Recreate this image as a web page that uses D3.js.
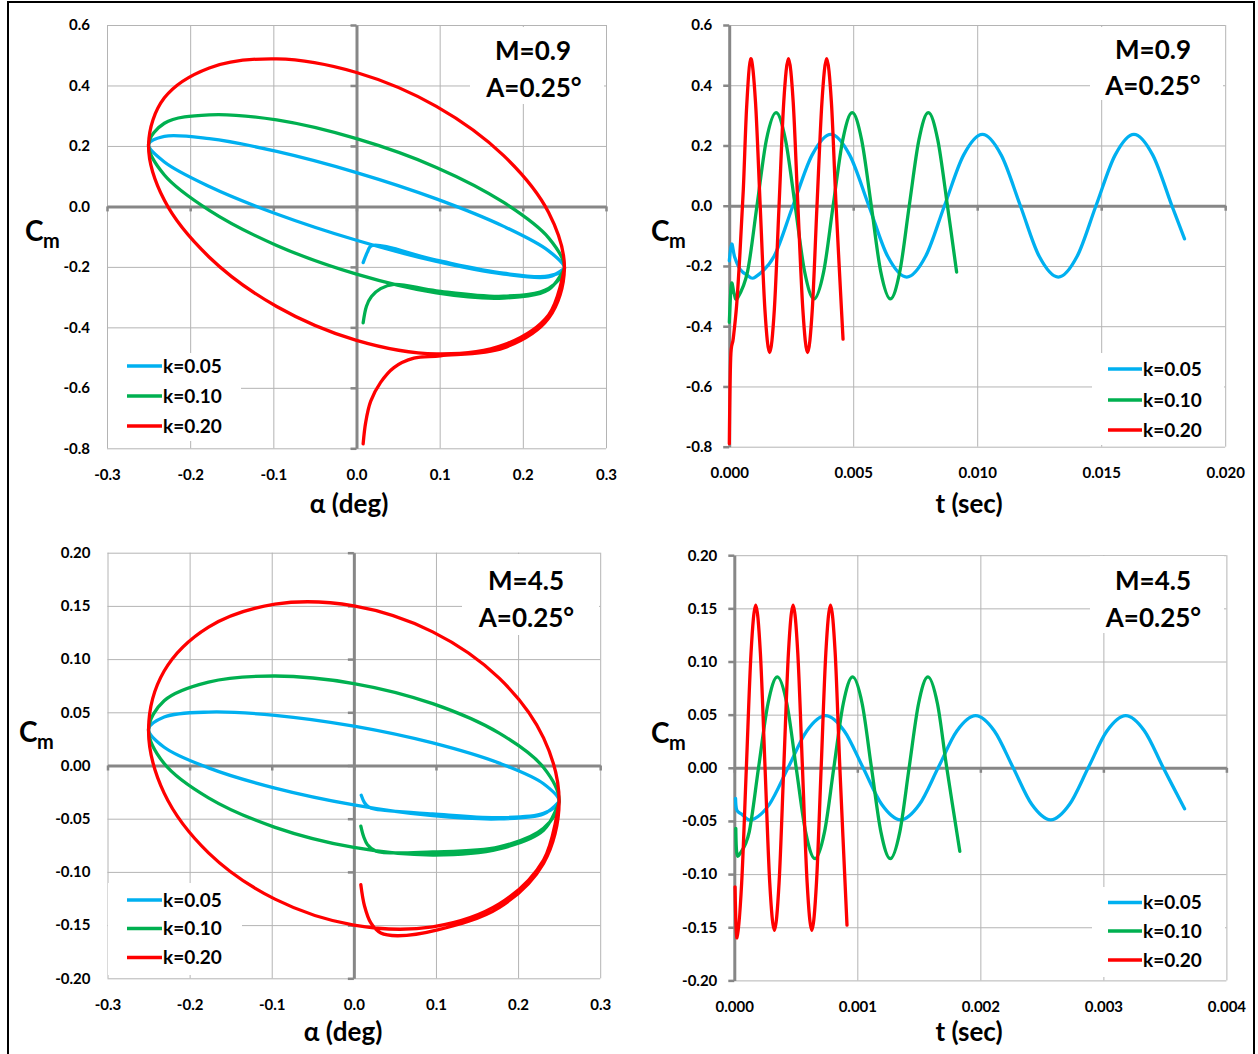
<!DOCTYPE html>
<html><head><meta charset="utf-8">
<script src="https://cdn.jsdelivr.net/npm/d3@7"></script>
<style>
body{margin:0;background:#fff;}
svg{display:block;}
</style></head><body>
<svg id="chart" width="1258" height="1054"></svg>
<script>
// ---------------- DATA ----------------
const seriesNames = ["k=0.05", "k=0.10", "k=0.20"];

const alphaTicks = [-0.3, -0.2, -0.1, 0.0, 0.1, 0.2, 0.3];
const cmTicksM09 = [-0.8, -0.6, -0.4, -0.2, 0.0, 0.2, 0.4, 0.6];
const cmTicksM45 = [-0.20, -0.15, -0.10, -0.05, 0.00, 0.05, 0.10, 0.15, 0.20];
const timeTicksM09 = [0.000, 0.005, 0.010, 0.015, 0.020];
const timeTicksM45 = [0.000, 0.001, 0.002, 0.003, 0.004];

const labelM09 = ["M=0.9", "A=0.25°"];
const labelM45 = ["M=4.5", "A=0.25°"];

// Cm vs alpha (deg), M = 0.9
const loopM09_k005 = [[0.008,-0.186],[0.013,-0.152],[0.018,-0.130],[0.096,-0.178],[0.177,-0.221],[0.231,-0.230],[0.25,-0.205],
  [0.231,-0.147],[0.177,-0.066],[0.096,0.025],[0,0.112],[-0.096,0.182],[-0.177,0.224],[-0.231,0.232],[-0.25,0.205],
  [-0.231,0.147],[-0.177,0.066],[-0.096,-0.025],[0,-0.112],[0.096,-0.182],[0.177,-0.224],[0.231,-0.233],[0.25,-0.205]];
const loopM09_k010 = [[0.008,-0.385],[0.012,-0.330],[0.018,-0.298],[0.029,-0.272],[0.045,-0.258],[0.096,-0.279],[0.177,-0.297],[0.231,-0.271],[0.25,-0.205],
  [0.231,-0.104],[0.177,0.013],[0.096,0.129],[0,0.224],[-0.096,0.286],[-0.177,0.303],[-0.231,0.275],[-0.25,0.205],
  [-0.231,0.104],[-0.177,-0.013],[-0.096,-0.129],[0,-0.224],[0.096,-0.286],[0.177,-0.303],[0.231,-0.275],[0.25,-0.205]];
const loopM09_k020 = [[0.008,-0.785],[0.011,-0.715],[0.017,-0.645],[0.029,-0.582],[0.045,-0.533],[0.069,-0.502],[0.101,-0.494],[0.177,-0.468],[0.231,-0.370],[0.25,-0.205],
  [0.231,-0.020],[0.177,0.168],[0.096,0.331],[0,0.443],[-0.096,0.488],[-0.177,0.458],[-0.231,0.359],[-0.25,0.205],
  [-0.231,0.020],[-0.177,-0.168],[-0.096,-0.331],[0,-0.443],[0.096,-0.488],[0.177,-0.458],[0.231,-0.359],[0.25,-0.205]];

// Cm vs t (sec), M = 0.9
const timeM09_k005 = [[0.000005,-0.183],[0.0001,-0.127],[0.00022,-0.170],[0.00045,-0.212],[0.00072,-0.230],[0.00105,-0.237],
  [0.00181,-0.168],[0.00257,0],[0.00334,0.168],[0.0041,0.237],[0.00486,0.168],[0.00563,0],[0.00639,-0.168],[0.00716,-0.237],
  [0.00792,-0.168],[0.00868,0],[0.00945,0.168],[0.01021,0.237],[0.01097,0.168],[0.01174,0],[0.0125,-0.168],[0.01327,-0.237],
  [0.01403,-0.168],[0.01479,0],[0.01556,0.168],[0.01632,0.237],[0.01708,0.168],[0.01785,0],[0.01836,-0.110]];
const timeM09_k010 = [[0.000005,-0.387],[0.00009,-0.260],[0.0002,-0.292],[0.00033,-0.307],[0.00074,-0.2185],[0.00112,0],
  [0.0015,0.2185],[0.00189,0.309],[0.00227,0.2185],[0.00266,0],[0.00304,-0.2185],[0.00342,-0.309],[0.00381,-0.2185],[0.00419,0],
  [0.00458,0.2185],[0.00496,0.309],[0.00534,0.2185],[0.00573,0],[0.00611,-0.2185],[0.0065,-0.309],[0.00688,-0.2185],[0.00726,0],
  [0.00765,0.2185],[0.00803,0.309],[0.00841,0.2185],[0.0088,0],[0.00917,-0.220]];
const timeM09_k020 = [[0.000005,-0.790],[0.00006,-0.505],[0.000165,-0.440],[0.0003,-0.330],[0.000435,-0.155],[0.00057,0.055],
  [0.000705,0.330],[0.00087,0.488],[0.00106,0.345],[0.00125,0],[0.00144,-0.345],[0.00163,-0.488],[0.00182,-0.345],[0.00201,0],
  [0.0022,0.345],[0.00239,0.488],[0.00258,0.345],[0.00277,0],[0.00297,-0.345],[0.00316,-0.488],[0.00335,-0.345],[0.00354,0],
  [0.00374,0.345],[0.00393,0.488],[0.00412,0.345],[0.00431,0],[0.00459,-0.443]];

// Cm vs alpha (deg), M = 4.5
const loopM45_k005 = [[0.009,-0.028],[0.013,-0.035],[0.018,-0.039],[0.026,-0.041],[0.096,-0.0455],[0.177,-0.049],[0.231,-0.045],[0.25,-0.034],
  [0.231,-0.0172],[0.177,0.0022],[0.096,0.0212],[0,0.037],[-0.096,0.0472],[-0.177,0.0502],[-0.231,0.0456],[-0.25,0.034],
  [-0.231,0.0172],[-0.177,-0.0022],[-0.096,-0.0212],[0,-0.037],[0.096,-0.0472],[0.177,-0.0502],[0.231,-0.0456],[0.25,-0.034]];
const loopM45_k010 = [[0.0085,-0.057],[0.012,-0.067],[0.0166,-0.0744],[0.0268,-0.0805],[0.096,-0.0812],[0.177,-0.0765],[0.231,-0.059],[0.25,-0.034],
  [0.231,-0.0019],[0.177,0.0304],[0.096,0.0581],[0,0.077],[-0.096,0.0841],[-0.177,0.0784],[-0.231,0.0609],[-0.25,0.034],
  [-0.231,0.0019],[-0.177,-0.0304],[-0.096,-0.0581],[0,-0.077],[0.096,-0.0841],[0.177,-0.0784],[0.231,-0.0609],[0.25,-0.034]];
const loopM45_k020 = [[0.0085,-0.112],[0.013,-0.132],[0.0207,-0.148],[0.0328,-0.1575],[0.053,-0.160],[0.102,-0.1545],[0.177,-0.1335],[0.231,-0.092],[0.25,-0.034],
  [0.231,0.026],[0.177,0.0821],[0.096,0.1256],[0,0.150],[-0.096,0.1516],[-0.177,0.1301],[-0.231,0.0888],[-0.25,0.034],
  [-0.231,-0.026],[-0.177,-0.0821],[-0.096,-0.1256],[0,-0.150],[0.096,-0.1516],[0.177,-0.1301],[0.231,-0.0888],[0.25,-0.034]];

// Cm vs t (sec), M = 4.5
const timeM45_k005 = [[0.00001,-0.0287],[0.00002,-0.0397],[0.00006,-0.0435],[0.00014,-0.049],[0.000284,-0.0346],[0.000437,0],
  [0.000589,0.0346],[0.000742,0.049],[0.000894,0.0346],[0.001047,0],[0.001199,-0.0346],[0.001352,-0.049],[0.001504,-0.0346],
  [0.001657,0],[0.001809,0.0346],[0.001962,0.049],[0.002114,0.0346],[0.002267,0],[0.002419,-0.0346],[0.002572,-0.049],
  [0.002724,-0.0346],[0.002877,0],[0.003029,0.0346],[0.003182,0.049],[0.003334,0.0346],[0.003487,0],[0.00366,-0.0386]];
const timeM45_k010 = [[0.000012,-0.057],[0.00002,-0.080],[0.000045,-0.081],[0.000121,-0.0605],[0.000197,0],[0.000274,0.0605],
  [0.00035,0.0855],[0.000427,0.0605],[0.000503,0],[0.00058,-0.0605],[0.000656,-0.0855],[0.000733,-0.0605],[0.000809,0],
  [0.000886,0.0605],[0.000962,0.0855],[0.001039,0.0605],[0.001115,0],[0.001192,-0.0605],[0.001268,-0.0855],[0.001345,-0.0605],
  [0.001421,0],[0.001498,0.0605],[0.001574,0.0855],[0.001651,0.0605],[0.001727,0],[0.001833,-0.0785]];
const timeM45_k020 = [[0.000006,-0.112],[0.000022,-0.160],[0.00006,-0.108],[0.000098,0],[0.000136,0.108],[0.000174,0.153],
  [0.000212,0.108],[0.00025,0],[0.000288,-0.108],[0.000326,-0.153],[0.000364,-0.108],[0.000402,0],[0.00044,0.108],[0.000478,0.153],
  [0.000516,0.108],[0.000554,0],[0.000592,-0.108],[0.00063,-0.153],[0.000668,-0.108],[0.000706,0],[0.000744,0.108],[0.000782,0.153],
  [0.00082,0.108],[0.000858,0],[0.000916,-0.148]];

// ---------------- STYLE / LAYOUT ----------------
const COLORS = ["#00B0F0", "#00B050", "#FF0000"];
const FONT = "Lato, 'Open Sans', 'DejaVu Sans', sans-serif";
const GRID = "#b4b4b4";
const AXIS = "#878787";
const locale = d3.formatLocale({decimal: ".", thousands: ",", grouping: [3], currency: ["", ""], minus: "-"});

const panels = [
  {x0:107, x1:606, y0:25, y1:448.3, xDomain:[-0.3,0.3], yDomain:[-0.8,0.6], xTicks:alphaTicks, yTicks:cmTicksM09,
   xFmt:".1f", yFmt:".1f", series:[loopM09_k005, loopM09_k010, loopM09_k020], curve:"loop",
   title:"α (deg)", titlePos:[349,513], cm:[25,240.5], anno:labelM09, annoPos:[533,60,534,96.5], annoBox:[470,27,134,77],
   legendBox:[108,353,133,88], legend:[127,162,366,396,426]},
  {x0:729.2, x1:1225.2, y0:25, y1:446.7, xDomain:[0,0.02], yDomain:[-0.8,0.6], xTicks:timeTicksM09, yTicks:cmTicksM09,
   xFmt:".3f", yFmt:".1f", series:[timeM09_k005, timeM09_k010, timeM09_k020], curve:"time",
   title:"t (sec)", titlePos:[969,513], cm:[651,240.5], anno:labelM09, annoPos:[1153,58.5,1153,95], annoBox:[1090,27,133,73],
   legendBox:[1092,353,132,92], legend:[1108,1142,369,400,430]},
  {x0:107.5, x1:600.2, y0:552.7, y1:978.3, xDomain:[-0.3,0.3], yDomain:[-0.2,0.2], xTicks:alphaTicks, yTicks:cmTicksM45,
   xFmt:".1f", yFmt:".2f", series:[loopM45_k005, loopM45_k010, loopM45_k020], curve:"loop",
   title:"α (deg)", titlePos:[343,1041], cm:[19,741.5], anno:labelM45, annoPos:[526,590,526.5,626.5], annoBox:[462,554,137,81],
   legendBox:[108,883,134,92], legend:[127,162,900,928.5,957.5]},
  {x0:734.3, x1:1226.4, y0:555.2, y1:980.4, xDomain:[0,0.004], yDomain:[-0.2,0.2], xTicks:timeTicksM45, yTicks:cmTicksM45,
   xFmt:".3f", yFmt:".2f", series:[timeM45_k005, timeM45_k010, timeM45_k020], curve:"time",
   title:"t (sec)", titlePos:[969,1041], cm:[651,743], anno:labelM45, annoPos:[1153,590,1153.5,626.5], annoBox:[1090,556,134,77],
   legendBox:[1092,887,133,90], legend:[1108,1142,902.5,931,960]}
];

// ---------------- DRAW ----------------
const svg = d3.select("#chart");
svg.append("rect").attr("width",1258).attr("height",1054).attr("fill","#fff");

function styleText(sel, size){
  sel.selectAll("text").attr("font-family",FONT).attr("font-weight",700).attr("font-size",size).attr("fill","#000");
}

panels.forEach(p => {
  const x = d3.scaleLinear().domain(p.xDomain).range([p.x0, p.x1]);
  const y = d3.scaleLinear().domain(p.yDomain).range([p.y1, p.y0]);
  const g = svg.append("g");

  // grid
  g.append("g").attr("transform",`translate(0,${p.y1})`)
    .call(d3.axisBottom(x).tickValues(p.xTicks).tickSize(-(p.y1-p.y0)).tickFormat(""))
    .call(s => { s.select(".domain").remove(); s.selectAll("line").attr("stroke",GRID).attr("stroke-width",1); });
  g.append("g").attr("transform",`translate(${p.x0},0)`)
    .call(d3.axisLeft(y).tickValues(p.yTicks).tickSize(-(p.x1-p.x0)).tickFormat(""))
    .call(s => { s.select(".domain").remove(); s.selectAll("line").attr("stroke",GRID).attr("stroke-width",1); });

  // white boxes behind annotation and legend
  g.append("rect").attr("x",p.annoBox[0]).attr("y",p.annoBox[1]).attr("width",p.annoBox[2]).attr("height",p.annoBox[3]).attr("fill","#fff");
  g.append("rect").attr("x",p.legendBox[0]).attr("y",p.legendBox[1]).attr("width",p.legendBox[2]).attr("height",p.legendBox[3]).attr("fill","#fff");

  // zero axes
  g.append("g").attr("transform",`translate(0,${y(0)})`)
    .call(d3.axisBottom(x).tickValues(p.xTicks).tickSize(5).tickSizeOuter(0).tickFormat(""))
    .call(s => { s.select(".domain").attr("stroke",AXIS).attr("stroke-width",3); s.selectAll(".tick line").attr("stroke",AXIS).attr("stroke-width",2.5); });
  g.append("g").attr("transform",`translate(${x(0)},0)`)
    .call(d3.axisLeft(y).tickValues(p.yTicks).tickSize(6).tickSizeOuter(0).tickFormat(""))
    .call(s => { s.select(".domain").attr("stroke",AXIS).attr("stroke-width",3); s.selectAll(".tick line").attr("stroke",AXIS).attr("stroke-width",2.5); });

  // tick labels
  g.append("g").attr("transform",`translate(${p.x0},0)`)
    .call(d3.axisLeft(y).tickValues(p.yTicks).tickSize(0).tickPadding(17).tickFormat(locale.format(p.yFmt)))
    .call(s => { s.select(".domain").remove(); styleText(s, 15); });
  g.append("g").attr("transform",`translate(0,${p.y1})`)
    .call(d3.axisBottom(x).tickValues(p.xTicks).tickSize(0).tickPadding(21).tickFormat(locale.format(p.xFmt)))
    .call(s => { s.select(".domain").remove(); styleText(s, 15); });

  // data
  const curve = p.curve === "time" ? d3.curveCatmullRom.alpha(0) : d3.curveCatmullRom.alpha(0.5);
  const line = d3.line().x(d => x(d[0])).y(d => y(d[1])).curve(curve);
  p.series.forEach((d,i) => {
    g.append("path").datum(d).attr("d", line).attr("fill","none")
      .attr("stroke",COLORS[i]).attr("stroke-width",3.3).attr("stroke-linejoin","round").attr("stroke-linecap","round");
  });

  // annotation
  g.append("text").attr("class","anno").attr("x",p.annoPos[0]).attr("y",p.annoPos[1]).attr("text-anchor","middle").text(p.anno[0]);
  g.append("text").attr("class","anno").attr("x",p.annoPos[2]).attr("y",p.annoPos[3]).attr("text-anchor","middle").text(p.anno[1]);

  // legend
  seriesNames.forEach((n,i) => {
    const ly = p.legend[2+i];
    g.append("line").attr("x1",p.legend[0]).attr("x2",p.legend[1]).attr("y1",ly).attr("y2",ly)
      .attr("stroke",COLORS[i]).attr("stroke-width",3.5);
    g.append("text").attr("class","leg").attr("x",p.legend[1]+1).attr("y",ly).attr("dy","0.35em").text(n);
  });

  // axis titles
  g.append("text").attr("class","ttl").attr("x",p.titlePos[0]).attr("y",p.titlePos[1]).attr("text-anchor","middle").text(p.title);
  g.append("text").attr("class","cmC").attr("x",p.cm[0]).attr("y",p.cm[1]).text("C");
  g.append("text").attr("class","cmM").attr("x",p.cm[0]+18).attr("y",p.cm[1]+7).text("m");
});

function styleClass(cls, size){
  svg.selectAll("text." + cls).attr("font-family",FONT).attr("font-weight",700).attr("font-size",size).attr("fill","#000");
}
styleClass("anno", 26);
styleClass("leg", 19);
styleClass("ttl", 26);
styleClass("cmC", 28);
styleClass("cmM", 20);

// outer frame
svg.append("rect").attr("x",8).attr("y",2).attr("width",1246).attr("height",1070)
  .attr("fill","none").attr("stroke","#000").attr("stroke-width",2);
</script>
</body></html>
